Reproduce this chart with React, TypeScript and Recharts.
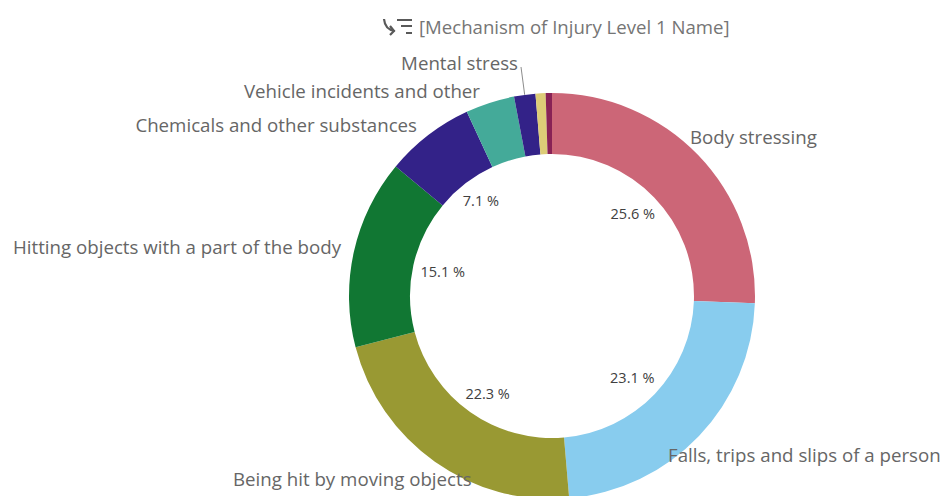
import { PieChart, Pie, Cell } from 'recharts';

const categories = [
  'Body stressing',
  'Falls, trips and slips of a person',
  'Being hit by moving objects',
  'Hitting objects with a part of the body',
  'Chemicals and other substances',
  'Vehicle incidents and other',
  'Mental stress',
  '',
  '',
];
const shares = [25.6, 23.1, 22.3, 15.1, 7.1, 3.9, 1.7, 0.8, 0.5];
const shownShares = ['25.6 %', '23.1 %', '22.3 %', '15.1 %', '7.1 %', '', '', '', ''];
const colors = ['#cc6677', '#88ccee', '#999933', '#117733', '#332288', '#44aa99', '#332288', '#ddcc77', '#882255'];

// where each category label sits, relative to the pie centre
const labelSpots: [number, number, 'start' | 'end'][] = [
  [138, -160, 'start'],
  [116, 158, 'start'],
  [-319, 182, 'start'],
  [-211, -50, 'end'],
  [-135, -172, 'end'],
  [-72, -206, 'end'],
  [-34, -234, 'end'],
];
// small corrections to the percent labels
const shareNudges = [[-2, -3], [-3, 2], [2, 4], [3, 0], [-1, -4]];

const data = categories.map((name, i) => ({ name, value: shares[i], shown: shownShares[i] }));

const RADIAN = Math.PI / 180;
const FONT = '"Open Sans", sans-serif';

function SliceLabel(props: any) {
  const { cx, cy, midAngle, innerRadius, outerRadius, index } = props;
  const spot = labelSpots[index];
  const nudge = shareNudges[index] || [0, 0];
  const sin = Math.sin(midAngle * RADIAN);
  const cos = Math.cos(midAngle * RADIAN);
  const r = innerRadius - 27;
  return (
    <g>
      {spot && categories[index] && (
        <text
          x={cx + spot[0]}
          y={cy + spot[1]}
          textAnchor={spot[2]}
          dominantBaseline="central"
          fontFamily={FONT}
          fontSize={18.7}
          fill="#666666"
        >
          {categories[index]}
        </text>
      )}
      {categories[index] === 'Mental stress' && (
        <line
          x1={cx + outerRadius * cos}
          y1={cy - outerRadius * sin}
          x2={cx + spot[0] + 3}
          y2={cy + spot[1] + 5}
          stroke="#8c8c8c"
          strokeWidth={1}
        />
      )}
      {shownShares[index] && (
        <text
          x={cx + r * cos + nudge[0]}
          y={cy - r * sin + nudge[1]}
          textAnchor="middle"
          dominantBaseline="central"
          fontFamily={FONT}
          fontSize={14.5}
          fill="#404040"
        >
          {shownShares[index]}
        </text>
      )}
    </g>
  );
}

export default function App() {
  return (
    <div style={{ position: 'absolute', left: 0, top: 0, width: 943, height: 496, background: '#fff', overflow: 'hidden' }}>
      <PieChart width={943} height={496} margin={{ top: 0, right: 0, bottom: 0, left: 0 }}>
        <g fill="none" stroke="#595959" strokeWidth={2.2}>
          <path d="M384 19 q1 11 11 12 M390 26 l4 5 l-4 4" />
          <path d="M397 20 h15 M401 26 h11 M406 33 h6" />
        </g>
        <text x={419} y={26} dominantBaseline="central" fontFamily={FONT} fontSize={18.6} fill="#757575">
          [Mechanism of Injury Level 1 Name]
        </text>
        <Pie
          data={data}
          dataKey="value"
          nameKey="name"
          cx={552}
          cy={296}
          innerRadius={142}
          outerRadius={203}
          startAngle={90}
          endAngle={-270}
          stroke="none"
          label={SliceLabel}
          labelLine={false}
          isAnimationActive={false}
        >
          {data.map((d, i) => (
            <Cell key={i} fill={colors[i]} />
          ))}
        </Pie>
      </PieChart>
    </div>
  );
}
